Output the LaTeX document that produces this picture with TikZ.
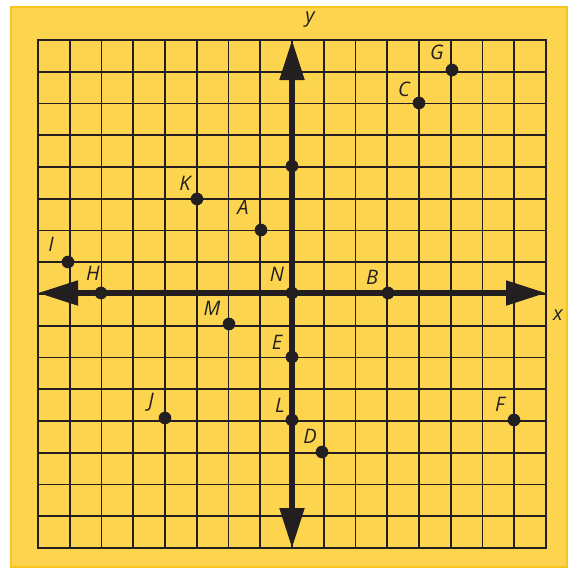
\documentclass[tikz,border=0pt]{standalone}
\usepackage{fontspec}
\setmainfont{Open Sans}
\usepackage{xcolor}
\usepackage{tikz}
\usetikzlibrary{arrows.meta,positioning,calc}

\definecolor{panel}{RGB}{253,212,78}
\definecolor{panelrim}{RGB}{248,196,30}
\definecolor{ink}{RGB}{35,31,32}

\tikzset{
  gridline/.style={color=ink,line width=1.45pt},
  axisline/.style={color=ink,line width=3.8pt,
    {Triangle[length=30pt,width=18pt]}-{Triangle[length=30pt,width=18pt]}},
  dot/.style={circle,fill=ink,inner sep=0pt,minimum size=9.5pt},
  lbl/.style={color=ink,font=\fontsize{15}{15}\selectfont\itshape,inner sep=0pt}
}

\begin{document}
\begin{tikzpicture}[x=0.75pt,y=-0.75pt]
	\useasboundingbox (0,0) rectangle (570,567);

	%Shape: Rectangle [panel]
	\draw [color=panelrim,line width=1pt,fill=panel] (11,7) rectangle (567,567);

	%Grid
	\foreach \i in {0,...,16} {
		\draw [gridline] (38+31.75*\i,40) -- (38+31.75*\i,548);
		\draw [gridline] (38,40+31.75*\i) -- (546,40+31.75*\i);
	}
	\draw [gridline,line width=2pt] (38,40) rectangle (546,548);

	%Axes
	\coordinate (xl) at (38,293);
	\coordinate (xr) at (546,293);
	\coordinate (yt) at (292,40);
	\coordinate (yb) at (292,548);
	\draw [axisline] (xl) -- (xr);
	\draw [axisline] (yb) -- (yt);

	% Points
	\node [dot] (pG) at (452,70) {};
	\node [dot] (pC) at (419,103) {};
	\node [dot] (pY) at (292,166) {};
	\node [dot] (pK) at (197,199) {};
	\node [dot] (pA) at (261,230) {};
	\node [dot] (pI) at (68,262) {};
	\node [dot] (pH) at (101,293) {};
	\node [dot] (pN) at (292,293) {};
	\node [dot] (pB) at (388,293) {};
	\node [dot] (pM) at (229,324) {};
	\node [dot] (pE) at (292,357) {};
	\node [dot] (pJ) at (165,418) {};
	\node [dot] (pL) at (292,420) {};
	\node [dot] (pD) at (322,452) {};
	\node [dot] (pF) at (514,420) {};

	% Text Node
	\node [lbl] (lG) at (437,52) {G};
	\node [lbl] (lC) at (404,89) {C};
	\node [lbl] (lK) at (185,183) {K};
	\node [lbl] (lA) at (243,207) {A};
	\node [lbl] (lI) at (51,244) {I};
	\node [lbl] (lH) at (93,273) {H};
	\node [lbl] (lN) at (277,274) {N};
	\node [lbl] (lB) at (372,277) {B};
	\node [lbl] (lM) at (212,308) {M};
	\node [lbl] (lE) at (277,342) {E};
	\node [lbl] (lJ) at (151,402) {J};
	\node [lbl] (lL) at (280,405) {L};
	\node [lbl] (lD) at (310,436) {D};
	\node [lbl] (lF) at (500,404) {F};
	% Text Node
	\node [lbl] (lx) at (558,315) {x};
	\node [lbl] (ly) at (310,20) {y};
\end{tikzpicture}
\end{document}
